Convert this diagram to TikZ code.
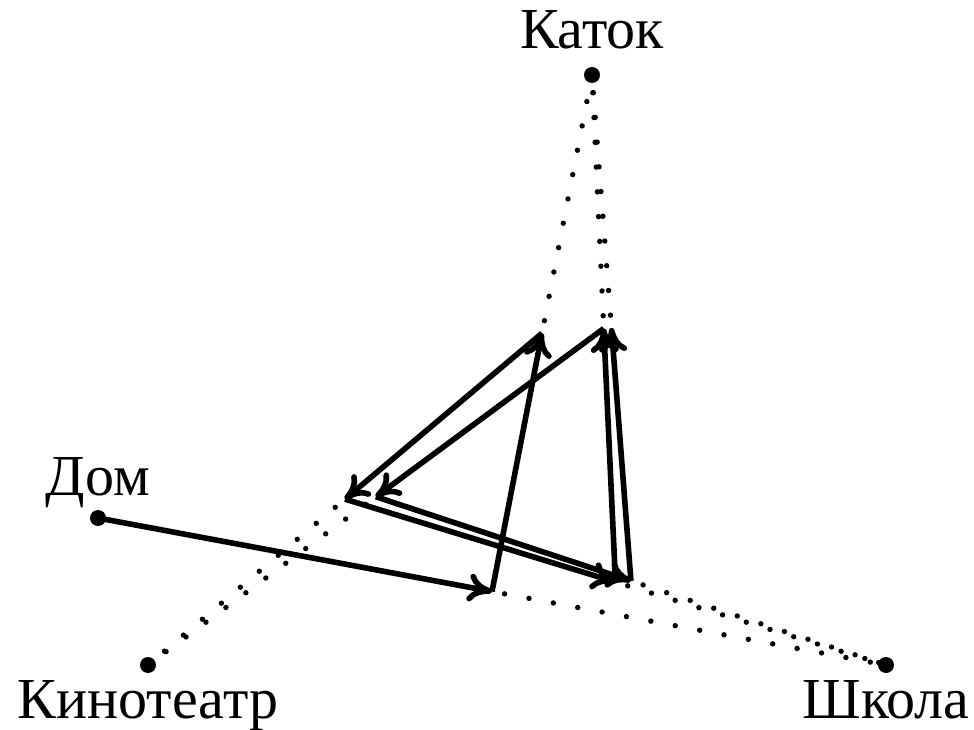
\documentclass[tikz,border=0pt]{standalone}
\usepackage{fontspec}
\setmainfont{Liberation Serif}
\usetikzlibrary{positioning,calc,arrows.meta}

\begin{document}
\begin{tikzpicture}[x=0.5pt,y=0.5pt,
  pt/.style={circle,fill,inner sep=0pt,minimum size=8pt},
  lbl/.style={font=\fontsize{29}{33}\selectfont,anchor=base,inner sep=0pt},
  walk/.style={line width=2.8pt,-{To[length=12pt,width=14pt]}},
  rest/.style={line width=2.7pt,line cap=round,dash pattern=on 0pt off 12.4pt,dash phase=6pt}]
\useasboundingbox (0,0) rectangle (974,729);
% places
\node[pt] (dom) at (98,211) {};
\node[pt] (katok) at (592,654) {};
\node[pt] (kino) at (148,64) {};
\node[pt] (shkola) at (886,64) {};
\node[lbl] (domlbl) at ([yshift=11.5pt]dom) {Дом};
\node[lbl] (katoklbl) at ([yshift=13pt]katok) {Каток};
\node[lbl] (kinolbl) at ([yshift=-26.5pt]kino) {Кинотеатр};
\node[lbl] (shkolalbl) at ([yshift=-26.5pt]shkola) {Школа};
% half way each time
\coordinate (p1) at ($(dom)!0.5!(shkola)$);
\coordinate (p2) at ($(p1)!0.5!(katok)$);
\coordinate (p3) at ($(p2)!0.5!(kino)$);
\coordinate (p4) at ($(p3)!0.5!(shkola)$);
\coordinate (p5) at ($(p4)!0.5!(katok)$);
\coordinate (p6) at ($(p5)!0.5!(kino)$);
\coordinate (p7) at ($(p6)!0.5!(shkola)$);
\coordinate (p8) at ($(p7)!0.5!(katok)$);
% the other halves
\draw[rest] (p1) -- (shkola.center);
\draw[rest] (p4) -- (shkola.center);
\draw[rest] (p7) -- (shkola.center);
\draw[rest] (p2) -- (katok.center);
\draw[rest] (p5) -- (katok.center);
\draw[rest] (p8) -- (katok.center);
\draw[rest] (p3) -- (kino.center);
\draw[rest] (p6) -- (kino.center);
% the walk
\draw[walk] (dom.center) -- (p1);
\draw[walk] (p1) -- (p2);
\draw[walk] (p2) -- (p3);
\draw[walk] (p3) -- (p4);
\draw[walk] (p4) -- (p5);
\draw[walk] (p5) -- (p6);
\draw[walk] (p6) -- (p7);
\draw[walk] (p7) -- (p8);
\end{tikzpicture}
\end{document}
